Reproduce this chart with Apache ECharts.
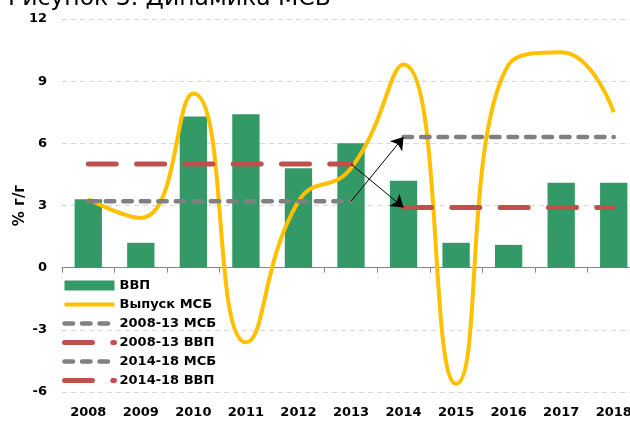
<!DOCTYPE html>
<html><head><meta charset="utf-8">
<script src="https://cdn.jsdelivr.net/npm/echarts@6/dist/echarts.min.js"></script>
<style>html,body{margin:0;padding:0;background:#fff;overflow:hidden;width:630px;height:421px}#c{width:642px;height:421px}</style>
</head><body><div id="c"></div>
<script>
const years = ['2008','2009','2010','2011','2012','2013','2014','2015','2016','2017','2018'];
const gdp = [3.3, 1.2, 7.3, 7.4, 4.8, 6.0, 4.2, 1.2, 1.1, 4.1, 4.1];
const smeOutput = [3.3, 2.4, 8.4, -3.6, 3.2, 4.8, 9.8, -5.6, 9.8, 10.4, 7.5];
const sme0813 = 3.2;
const gdp0813 = 5.0;
const sme1418 = 6.3;
const gdp1418 = 2.9;
const period1 = [0, 5];
const period2 = [6, 10];
const seriesNames = ['ВВП', 'Выпуск МСБ', '2008-13 МСБ', '2008-13 ВВП', '2014-18 МСБ', '2014-18 ВВП'];

function span(v, p) { return years.map((y, i) => (i >= p[0] && i <= p[1]) ? v : null); }

const FONT = 'DejaVu Sans';
const chart = echarts.init(document.getElementById('c'), null, {renderer: 'canvas', width: 642, height: 421});
const grayDash = {color: '#808080', width: 4.5, type: [8.5, 9], cap: 'round'};
const redDash = {color: '#C0504D', width: 5, type: [28, 20.3], cap: 'round'};
const hideSym = {opacity: 0};

chart.setOption({
  animation: false,
  textStyle: {fontFamily: FONT},
  title: {
    text: 'Рисунок 3. Динамика МСБ', left: 8, top: -13, padding: 0,
    textStyle: {fontFamily: FONT, fontSize: 23.5, fontWeight: 'normal', color: '#000'}
  },
  grid: {left: 62, right: 2, top: 19, bottom: 29, containLabel: false, outerBoundsMode: 'none'},
  legend: {
    orient: 'vertical', left: 62, top: 279, itemWidth: 50, itemHeight: 10, itemGap: 6,
    padding: 0,
    textStyle: {fontFamily: FONT, fontWeight: 'bold', fontSize: 13, color: '#000'},
    data: [
      {name: seriesNames[0], icon: 'rect'},
      {name: seriesNames[1], itemStyle: hideSym, lineStyle: {width: 4}},
      {name: seriesNames[2], itemStyle: hideSym, lineStyle: {width: 4.5}},
      {name: seriesNames[3], itemStyle: hideSym, lineStyle: {width: 5}},
      {name: seriesNames[4], itemStyle: hideSym, lineStyle: {width: 4.5}},
      {name: seriesNames[5], itemStyle: hideSym, lineStyle: {width: 5}}
    ]
  },
  xAxis: [
    {type: 'category', data: years, position: 'bottom', axisLine: {show: false, onZero: false},
     axisTick: {show: false},
     axisLabel: {margin: 14, color: '#000', fontWeight: 'bold', fontSize: 13, fontFamily: FONT}},
    {type: 'category', data: years, position: 'bottom', axisLine: {show: true, onZero: true, lineStyle: {color: '#868686', width: 1}},
     axisTick: {show: true, length: 5, lineStyle: {color: '#868686'}}, axisLabel: {show: false}}
  ],
  yAxis: {
    type: 'value', min: -6, max: 12, interval: 3,
    name: '% г/г', nameLocation: 'middle', nameGap: 34, nameRotate: 90, nameMoveOverlap: false,
    nameTextStyle: {fontFamily: FONT, fontWeight: 'bold', fontSize: 15, color: '#000'},
    axisLine: {show: false}, axisTick: {show: false},
    axisLabel: {margin: 15, color: '#000', fontWeight: 'bold', fontSize: 13, fontFamily: FONT},
    splitLine: {lineStyle: {color: '#d9d9d9', type: [5, 4], width: 1}}
  },
  series: [
    {name: seriesNames[0], type: 'bar', data: gdp, barWidth: '52%', itemStyle: {color: '#339966'}},
    {name: seriesNames[1], type: 'line', data: smeOutput, smooth: 0.5, symbol: 'none',
     lineStyle: {color: '#FFC000', width: 4}, itemStyle: {color: '#FFC000'}},
    {name: seriesNames[2], type: 'line', data: span(sme0813, period1), symbol: 'none', lineStyle: grayDash, itemStyle: {color: '#808080'}},
    {name: seriesNames[3], type: 'line', data: span(gdp0813, period1), symbol: 'none', lineStyle: redDash, itemStyle: {color: '#C0504D'}},
    {name: seriesNames[4], type: 'line', data: span(sme1418, period2), symbol: 'none', lineStyle: grayDash, itemStyle: {color: '#808080'}},
    {name: seriesNames[5], type: 'line', data: span(gdp1418, period2), symbol: 'none', lineStyle: redDash, itemStyle: {color: '#C0504D'},
     markLine: {
       silent: true, symbol: ['none', 'arrow'], symbolSize: 12,
       label: {show: false},
       lineStyle: {color: '#000', width: 1, type: 'solid'},
       data: [
         [{coord: [years[period1[1]], sme0813]}, {coord: [years[period2[0]], sme1418]}],
         [{coord: [years[period1[1]], gdp0813]}, {coord: [years[period2[0]], gdp1418]}]
       ]
     }}
  ]
});
</script></body></html>
